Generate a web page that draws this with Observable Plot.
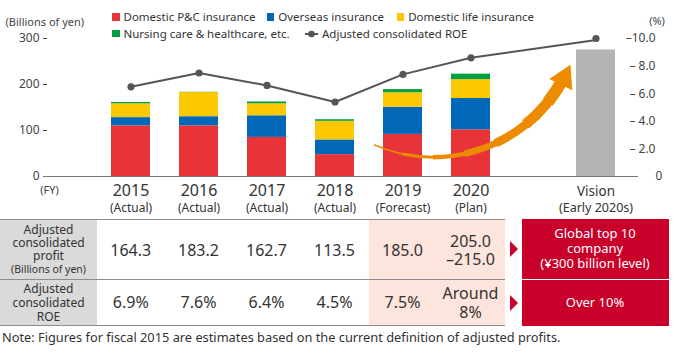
<!DOCTYPE html>
<html><head><meta charset="utf-8">
<script src="https://cdn.jsdelivr.net/npm/d3@7"></script>
<script src="https://cdn.jsdelivr.net/npm/@observablehq/plot@0.6"></script>
<style>
html,body{margin:0;padding:0;background:#fff;}
body{font-family:"Noto Sans",sans-serif;color:#333;}
#wrap{position:relative;width:676px;height:358px;overflow:hidden;}
#chart{position:absolute;left:0;top:0;}
.leg{position:absolute;font-size:11.5px;line-height:14px;height:14px;white-space:nowrap;display:flex;align-items:center;}
.sw{width:7.5px;height:7.5px;margin-right:4px;flex:none;}
.cell{position:absolute;display:flex;align-items:center;justify-content:center;text-align:center;box-sizing:border-box;}
.hline{position:absolute;left:0;height:1px;background:#8c8c8c;}
.tri{position:absolute;width:0;height:0;border-top:8px solid transparent;border-bottom:8px solid transparent;border-left:8px solid #c9002a;}
.note{position:absolute;left:2px;font-size:12.8px;line-height:14px;white-space:nowrap;}
</style></head><body><div id="wrap"><div id="chart"></div></div>
<script>
// ---------- data ----------
const years = ["2015", "2016", "2017", "2018", "2019", "2020"];
const yearNotes = ["(Actual)", "(Actual)", "(Actual)", "(Actual)", "(Forecast)", "(Plan)"];
const segments = ["Domestic P&C insurance", "Overseas insurance", "Domestic life insurance", "Nursing care & healthcare, etc."];
const domesticPC = [110, 110, 85, 47.5, 91.5, 101.5];
const overseas = [18, 20, 47, 32, 59, 68];
const domesticLife = [30, 52.5, 26, 40.5, 31.5, 41];
const nursing = [3, 0.5, 4, 3.5, 7, 12];
const roe = [6.5, 7.5, 6.6, 5.4, 7.4, 8.6];
const roeLabel = "Adjusted consolidated ROE";
const visionLabel = "Vision";
const visionNote = "(Early 2020s)";
const visionProfit = 275;
const visionRoe = 10;
const leftTicks = [0, 100, 200, 300];
const rightTicks = [0, 2, 4, 6, 8, 10];
const rowHeads = [["Adjusted", "consolidated", "profit", "(Billions of yen)"], ["Adjusted", "consolidated", "ROE"]];
const profitText = ["164.3", "183.2", "162.7", "113.5", "185.0", "205.0\n–215.0"];
const roeText = ["6.9%", "7.6%", "6.4%", "4.5%", "7.5%", "Around\n8%"];
const visionProfitText = "Global top 10\ncompany\n(¥300 billion level)";
const visionRoeText = "Over 10%";
const noteText = "Note: Figures for fiscal 2015 are estimates based on the current definition of adjusted profits.";

// ---------- styling ----------
const colors = ["#e83338", "#0068b6", "#fcc800", "#00a040"];
const k = 300 / 10; // 10% ROE aligned with ¥300 billion
const shiftV = -11;
// decorative growth arrow (annotation, in left-axis units)
const arrowSpec = {from: "2019", to: visionLabel, fromValue: 87, toValue: 208, headValue: 214};
const taper = [[0, 1.5], [30, 3], [60, 4.5], [90, 6.5], [120, 8.5], [150, 10.5], [175, 12]];

const stackRows = years.flatMap((year, i) =>
  [domesticPC, overseas, domesticLife, nursing].map((arr, j) => ({year, segment: segments[j], value: arr[i]})));
const roeRows = years.map((year, i) => ({year, roe: roe[i], note: yearNotes[i]}));
const visionRows = [{year: visionLabel, note: visionNote, profit: visionProfit, roe: visionRoe}];
const last = roeRows[roeRows.length - 1];

const fmtRight = d => { const s = (d / k).toFixed(1); return s.length > 3 ? "–" + s : "– " + s; };

const plot = Plot.plot({
  width: 676, height: 218,
  marginLeft: 47, marginRight: 38, marginTop: 38, marginBottom: 42,
  style: {fontFamily: '"Noto Sans", sans-serif', fontSize: "12px", color: "#333", background: "transparent", overflow: "visible"},
  x: {type: "band", domain: [...years, " ", visionLabel], range: [110, 627], paddingInner: 0.43, paddingOuter: 0, axis: null},
  y: {domain: [0, 300], axis: null},
  color: {domain: segments, range: colors},
  marks: [
    Plot.barY(stackRows, {x: "year", y: "value", fill: "segment"}),
    Plot.barY(visionRows, {x: "year", y: "profit", fill: "#b4b4b4", dx: shiftV}),
    Plot.ruleY([0], {stroke: "#777", strokeWidth: 1, insetLeft: -4}),
    ...taper.map(([inset, sw]) => Plot.arrow([arrowSpec], {
      x1: "from", x2: "to", y1: "fromValue", y2: "toValue", dx: -45, bend: -46,
      insetStart: 18 + inset, headLength: 0,
      stroke: "#ec8a00", strokeWidth: sw, strokeLinecap: "butt"})),
    Plot.dot([arrowSpec], {x: "to", y: "headValue", symbol: "triangle", r: 9.5, rotate: 26, fill: "#ec8a00", dx: -43}),
    Plot.line(roeRows, {x: "year", y: d => d.roe * k, stroke: "#555", strokeWidth: 2}),
    Plot.arrow([{a: last.year, b: visionLabel, ya: last.roe * k, yb: visionRoe * k}], {
      x1: "a", x2: "b", y1: "ya", y2: "yb", insetEnd: 10.8, headLength: 0, stroke: "#555", strokeWidth: 2}),
    Plot.dot(roeRows, {x: "year", y: d => d.roe * k, r: 3.6, fill: "#555"}),
    Plot.dot(visionRows, {x: "year", y: d => d.roe * k, r: 3.6, fill: "#555", dx: shiftV}),
    // axes
    Plot.axisY({ticks: leftTicks.filter(d => d > 0), tickSize: 4, tickPadding: 4, color: "#444", fontSize: 12, label: null}),
    Plot.axisY({ticks: [0], tickSize: 0, tickPadding: 8, color: "#444", fontSize: 12, label: null}),
    Plot.axisY({anchor: "right", ticks: rightTicks.filter(d => d > 0).map(d => d * k), tickSize: 0, tickPadding: 17,
      textAnchor: "end", tickFormat: fmtRight, color: "#444", fontSize: 12, label: null}),
    Plot.axisY({anchor: "right", ticks: [0], tickSize: 0, tickPadding: 17, textAnchor: "start", tickFormat: d => d, color: "#444", fontSize: 12, label: null}),
    // category labels
    Plot.text(roeRows, {x: "year", text: "year", frameAnchor: "bottom", dy: 19, lineAnchor: "bottom", fontSize: 16, fill: "#333"}),
    Plot.text(roeRows, {x: "year", text: "note", frameAnchor: "bottom", dy: 35, lineAnchor: "bottom", fontSize: 12, fill: "#333"}),
    Plot.text(visionRows, {x: "year", text: "year", frameAnchor: "bottom", dy: 19, dx: shiftV, lineAnchor: "bottom", fontSize: 13.5, fill: "#333"}),
    Plot.text(visionRows, {x: "year", text: "note", frameAnchor: "bottom", dy: 35, dx: shiftV, lineAnchor: "bottom", fontSize: 12.5, fill: "#333"}),
    Plot.text(["(FY)"], {frameAnchor: "bottom-left", dx: 2, dy: 17, lineAnchor: "bottom", textAnchor: "middle", fontSize: 11, fill: "#444"}),
    Plot.text(["(Billions of yen)"], {frameAnchor: "top-left", dx: -42, dy: -12.5, lineAnchor: "bottom", textAnchor: "start", fontSize: 11, fill: "#444"}),
    Plot.text(["(%)"], {frameAnchor: "top-right", dx: 18.5, dy: -14, lineAnchor: "bottom", textAnchor: "middle", fontSize: 11, fill: "#444"})
  ]
});
const wrap = document.getElementById("wrap");
document.getElementById("chart").appendChild(plot);

// ---------- legend ----------
const legendPos = [[112, 10], [266.7, 10], [396.7, 10], [112, 26.5]];
segments.forEach((s, i) => {
  const d = document.createElement("div");
  d.className = "leg";
  d.style.left = legendPos[i][0] + "px"; d.style.top = legendPos[i][1] + "px";
  d.innerHTML = `<span class="sw" style="background:${colors[i]}"></span>`;
  d.appendChild(document.createTextNode(s));
  wrap.appendChild(d);
});
{
  const d = document.createElement("div");
  d.className = "leg";
  d.style.left = "305px"; d.style.top = "26.5px";
  d.innerHTML = `<svg width="13" height="8" style="margin-right:4px"><line x1="0" y1="4" x2="13" y2="4" stroke="#555" stroke-width="2"/><circle cx="6.5" cy="4" r="3.3" fill="#555"/></svg>`;
  d.appendChild(document.createTextNode(roeLabel));
  wrap.appendChild(d);
}

// ---------- table ----------
const xs = plot.scale("x");
const step = xs.step, bw = xs.bandwidth;
const centers = years.map(y => xs.apply(y) + bw / 2);
const headW = 97;
const lefts = centers.map((c, i) => i === 0 ? headW : c - step / 2);
const rights = centers.map(c => c + step / 2);
const tableRight = rights[rights.length - 1];
const rowsY = [[220, 59], [280, 45]];
function addCell(left, top, w, h, html, css) {
  const d = document.createElement("div");
  d.className = "cell";
  Object.assign(d.style, {left: left + "px", top: top + "px", width: w + "px", height: h + "px"}, css || {});
  d.innerHTML = html ? `<div>${html}</div>` : "";
  wrap.appendChild(d);
}
const br = s => s.split("\n").join("<br>");
// header cells
addCell(0, 219, headW, 106, "", {background: "#dadada"});
addCell(0, rowsY[0][0], headW, rowsY[0][1],
  rowHeads[0].slice(0, 3).join("<br>") + `<br><span style="font-size:10.5px;white-space:nowrap">${rowHeads[0][3]}</span>`,
  {fontSize: "12px", lineHeight: "13px"});
addCell(0, rowsY[1][0], headW, rowsY[1][1], rowHeads[1].join("<br>"), {fontSize: "12px", lineHeight: "14px"});
// value cells
years.forEach((y, i) => {
  const hl = yearNotes[i] !== "(Actual)";
  if (hl) addCell(lefts[i], 219, rights[i] - lefts[i], 106, "", {background: "#fde4dc"});
  addCell(lefts[i], rowsY[0][0], rights[i] - lefts[i], rowsY[0][1], br(profitText[i]), {fontSize: "16px", lineHeight: "18px"});
  addCell(lefts[i], rowsY[1][0], rights[i] - lefts[i], rowsY[1][1], br(roeText[i]), {fontSize: "16px", lineHeight: "19px"});
});
// rules
[219, 279, 325].forEach(t => {
  const l = document.createElement("div");
  l.className = "hline"; l.style.top = t + "px"; l.style.width = tableRight + "px";
  wrap.appendChild(l);
});
// arrows + vision boxes
const boxL = tableRight + 17, boxW = 147;
[[219, 59.5, visionProfitText, 249], [280, 45.5, visionRoeText, 302.5]].forEach(([t, h, txt, mid]) => {
  const tri = document.createElement("div");
  tri.className = "tri"; tri.style.left = (tableRight + 5) + "px"; tri.style.top = (mid - 8) + "px";
  wrap.appendChild(tri);
  addCell(boxL, t, boxW, h, br(txt), {background: "#c9002a", color: "#fff", fontSize: "13px", lineHeight: "15px"});
});
// note
const n = document.createElement("div");
n.className = "note"; n.style.top = "330px"; n.textContent = noteText;
wrap.appendChild(n);
</script></body></html>
